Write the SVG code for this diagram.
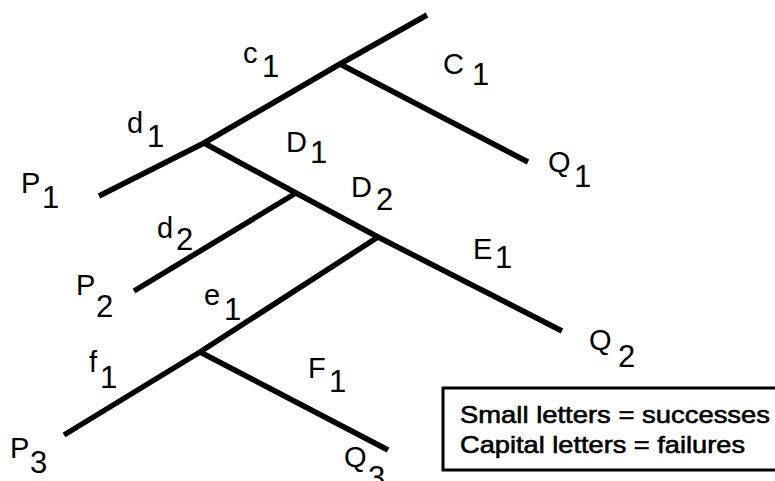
<svg xmlns="http://www.w3.org/2000/svg" width="775" height="481" viewBox="0 0 775 481">
<style>
.br{fill:none;stroke:#000;stroke-width:5.5;stroke-linecap:butt;stroke-linejoin:miter}
.lb{font-family:"Liberation Sans",Arial,sans-serif;font-size:29px;fill:#000}
.sb{font-size:31px}
.lg{font-family:"Liberation Sans",Arial,sans-serif;font-size:24px;fill:#000;stroke:#000;stroke-width:0.6}
</style>
<rect width="775" height="481" fill="#fff"/>
<g id="connectors">
<polyline class="br" points="99,196 204,143 340,64 427,15"/>
<polyline class="br" points="340,64 528,162"/>
<polyline class="br" points="204,143 296,193 378,237 562,331"/>
<polyline class="br" points="296,193 134,291"/>
<polyline class="br" points="378,237 200,352 64,435"/>
<polyline class="br" points="200,352 388,450"/>
</g>
<g id="label-c1"><text class="lb"><tspan x="243" y="63">c</tspan><tspan class="sb" x="262" y="77">1</tspan></text></g>
<g id="label-C1"><text class="lb"><tspan x="443" y="74">C</tspan><tspan class="sb" x="472" y="85">1</tspan></text></g>
<g id="label-d1"><text class="lb"><tspan x="127" y="133">d</tspan><tspan class="sb" x="147" y="147">1</tspan></text></g>
<g id="label-D1"><text class="lb"><tspan x="286" y="152">D</tspan><tspan class="sb" x="310" y="163">1</tspan></text></g>
<g id="label-D2"><text class="lb"><tspan x="351" y="197">D</tspan><tspan class="sb" x="376" y="210">2</tspan></text></g>
<g id="label-d2"><text class="lb"><tspan x="157" y="238">d</tspan><tspan class="sb" x="176" y="250">2</tspan></text></g>
<g id="label-E1"><text class="lb"><tspan x="473" y="259">E</tspan><tspan class="sb" x="495" y="268">1</tspan></text></g>
<g id="label-e1"><text class="lb"><tspan x="204" y="305">e</tspan><tspan class="sb" x="224" y="320">1</tspan></text></g>
<g id="label-f1"><text class="lb"><tspan x="89" y="372">f</tspan><tspan class="sb" x="100" y="388">1</tspan></text></g>
<g id="label-F1"><text class="lb"><tspan x="308" y="378">F</tspan><tspan class="sb" x="329" y="392">1</tspan></text></g>
<g id="node-P1"><text class="lb"><tspan x="21" y="193">P</tspan><tspan class="sb" x="42" y="208">1</tspan></text></g>
<g id="node-P2"><text class="lb"><tspan x="76" y="295">P</tspan><tspan class="sb" x="96" y="317">2</tspan></text></g>
<g id="node-P3"><text class="lb"><tspan x="10" y="458">P</tspan><tspan class="sb" x="30" y="473">3</tspan></text></g>
<g id="node-Q1"><text class="lb"><tspan x="548" y="172">Q</tspan><tspan class="sb" x="574" y="187">1</tspan></text></g>
<g id="node-Q2"><text class="lb"><tspan x="589" y="350">Q</tspan><tspan class="sb" x="618" y="367">2</tspan></text></g>
<g id="node-Q3"><text class="lb"><tspan x="344" y="467">Q</tspan><tspan class="sb" x="368" y="488">3</tspan></text></g>
<g id="legend">
<rect x="443" y="388" width="340" height="82" fill="none" stroke="#000" stroke-width="3"/>
<text class="lg" x="460" y="423" textLength="310" lengthAdjust="spacingAndGlyphs">Small letters = successes</text>
<text class="lg" x="460" y="453" textLength="285" lengthAdjust="spacingAndGlyphs">Capital letters = failures</text>
</g>
</svg>
